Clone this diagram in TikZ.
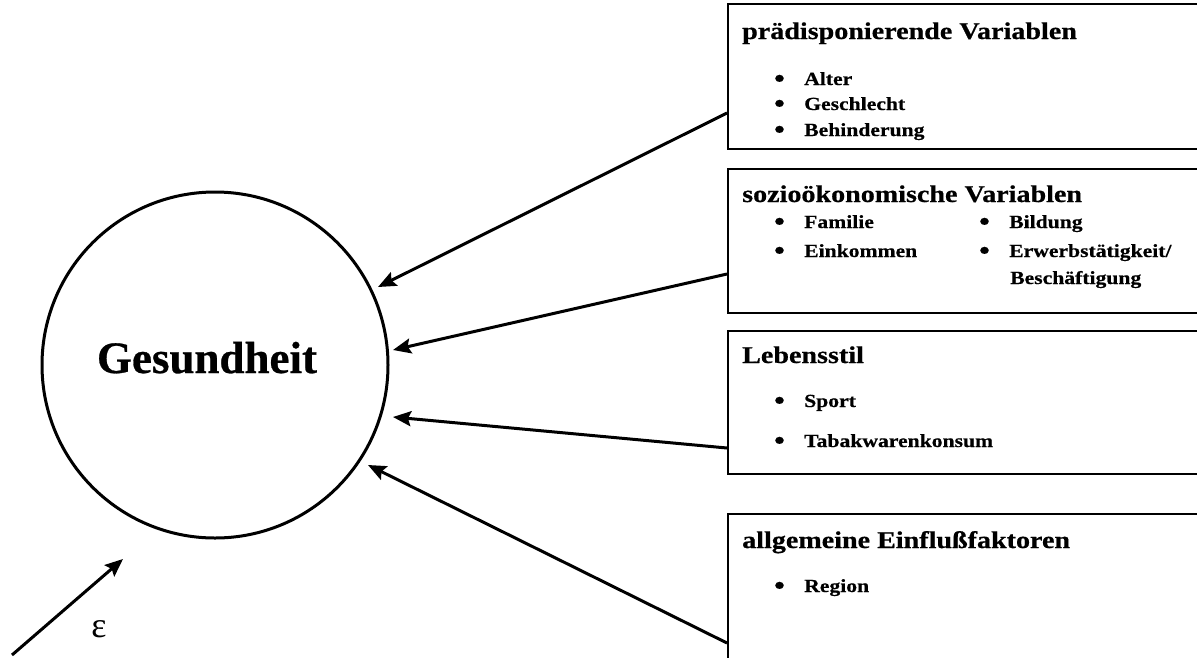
\documentclass[tikz,border=0pt]{standalone}
\usepackage{fontspec}
\setmainfont{Liberation Serif}
\newfontfamily\kastenfont[FakeStretch=1.17,FakeBold=0.6]{Liberation Serif Bold}
\newfontfamily\kreisfont[FakeBold=0.6]{Liberation Serif Bold}
\usetikzlibrary{arrows.meta,positioning,calc}

\newcommand{\punkt}[1]{\makebox[30pt][l]{\smash{\raisebox{-2pt}{\fontsize{26}{26}\selectfont\textbullet}}}#1}

\begin{document}
\begin{tikzpicture}[x=1pt,y=-1pt,>={Stealth[length=18pt,width=15pt,inset=3pt]},
   every node/.style={inner sep=0pt},
   kasten/.style={draw,line width=1.9pt,anchor=north west,minimum width=490pt},
   titel/.style={anchor=base west,font=\kastenfont\fontsize{24}{28}\selectfont},
   eintrag/.style={anchor=base west,font=\kastenfont\fontsize{18.5}{22}\selectfont},
   pfeil/.style={->,line width=3pt}]
  \useasboundingbox (0,0) rectangle (1197,657);
  % Gesundheit
  \node[draw,circle,line width=3pt,minimum size=346pt] (ges) at (215,365) {};
  \node[anchor=base,font=\kreisfont\fontsize{45}{50}\selectfont] (gestxt) at (207,373) {Gesundheit};
  % Kaesten
  \node[kasten,minimum height=145pt] (praed) at (727,3) {};
  \node[kasten,minimum height=144pt] (sozio) at (727,168) {};
  \node[kasten,minimum height=143pt] (leben) at (727,330) {};
  \node[kasten,minimum height=160pt] (allg) at (727,513) {};
  % praedisponierende Variablen
  \node[titel] (praedT) at (742,39) {prädisponierende Variablen};
  \node[eintrag] (alter) at (774,85) {\punkt{Alter}};
  \node[eintrag] (geschl) at (774,110) {\punkt{Geschlecht}};
  \node[eintrag] (behind) at (774,136) {\punkt{Behinderung}};
  % soziooekonomische Variablen
  \node[titel] (soziT) at (742,202) {sozioökonomische Variablen};
  \node[eintrag] (fam) at (774,228) {\punkt{Familie}};
  \node[eintrag] (eink) at (774,257) {\punkt{Einkommen}};
  \node[eintrag] (bild) at (979,228) {\punkt{Bildung}};
  \node[eintrag] (erwerb) at (979,257) {\punkt{Erwerbstätigkeit/}};
  \node[eintrag] (besch) at (1010,284) {Beschäftigung};
  % Lebensstil
  \node[titel] (lebenT) at (742,363) {Lebensstil};
  \node[eintrag] (sport) at (774,407) {\punkt{Sport}};
  \node[eintrag] (tabak) at (774,447) {\punkt{Tabakwarenkonsum}};
  % allgemeine Einflussfaktoren
  \node[titel] (allgT) at (742,548) {allgemeine Einflußfaktoren};
  \node[eintrag] (region) at (774,592) {\punkt{Region}};
  % Pfeile
  \coordinate (z1) at (378,287);
  \coordinate (z2) at (393,350);
  \coordinate (z3) at (393,417);
  \coordinate (z4) at (368,465);
  \draw[pfeil] ([yshift=-110pt]praed.north west) -- (z1);
  \draw[pfeil] ([yshift=-106pt]sozio.north west) -- (z2);
  \draw[pfeil] ([yshift=-118pt]leben.north west) -- (z3);
  \draw[pfeil] ([yshift=-130pt]allg.north west) -- (z4);
  % Stoerterm
  \coordinate (s0) at (12,655);
  \coordinate (s1) at (123,559);
  \draw[pfeil] (s0) -- (s1);
  \node[font=\fontsize{36}{40}\selectfont] (eps) at (99,629) {ε};
\end{tikzpicture}
\end{document}
